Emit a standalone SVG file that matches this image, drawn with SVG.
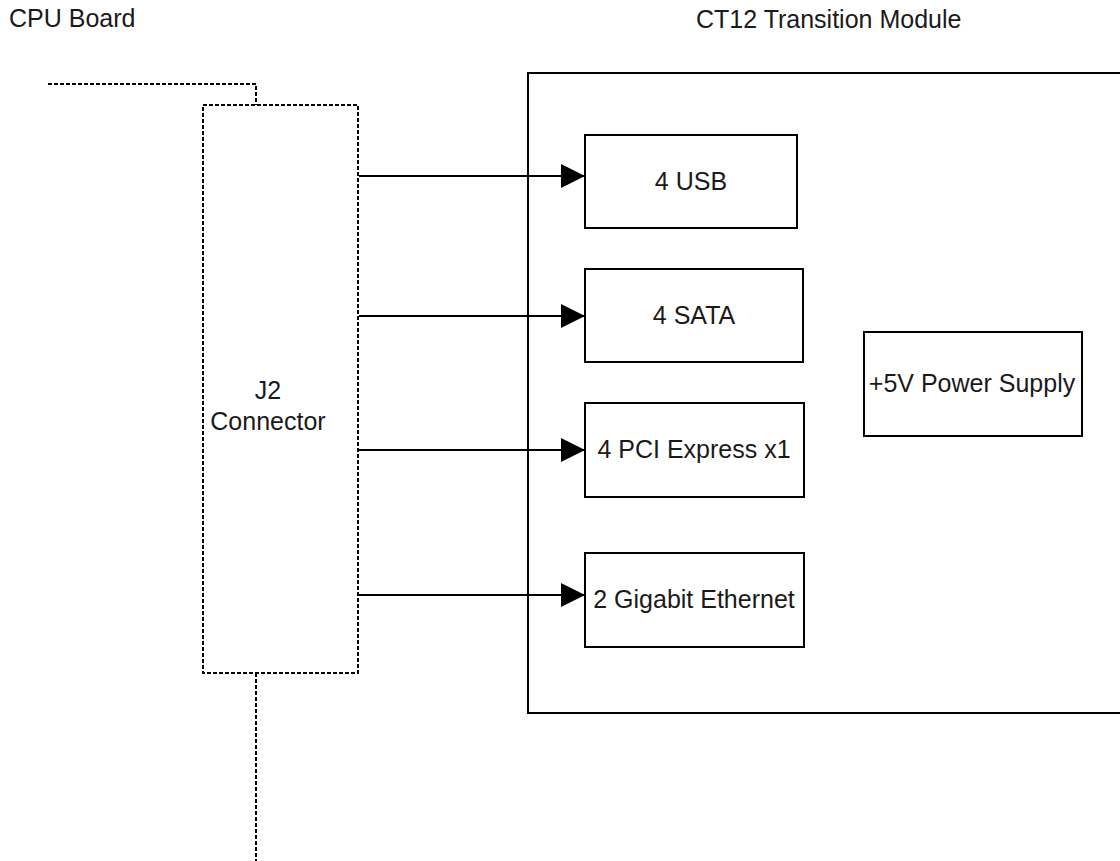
<svg xmlns="http://www.w3.org/2000/svg" width="1120" height="861" viewBox="0 0 1120 861">
<style>
  text { font-family: "Liberation Sans", Arial, sans-serif; font-size: 25px; fill: #1a1a1a; }
  .c { text-anchor: middle; }
  .box { fill: #ffffff; stroke: #000000; stroke-width: 2; }
  .dash { fill: none; stroke: #000000; stroke-width: 2; stroke-dasharray: 4 2; }
  .conn { fill: none; stroke: #000000; stroke-width: 2; }
</style>
<defs>
  <marker id="arrow" markerUnits="userSpaceOnUse" markerWidth="24" markerHeight="24" refX="22" refY="11" orient="auto" viewBox="0 0 22 22">
    <path d="M0,0 L22,11 L0,22 Z" fill="#000000"/>
  </marker>
</defs>
<rect width="1120" height="861" fill="#ffffff"/>
<g id="labels">
  <text x="9" y="27">CPU Board</text>
  <text x="696" y="28">CT12 Transition Module</text>
</g>
<g id="cpu-board-edge">
  <path class="dash" d="M48,84 H256 V105"/>
  <path class="dash" d="M256,673 V861"/>
</g>
<g id="module">
  <rect class="box" x="528" y="73" width="600" height="640"/>
</g>
<g id="j2">
  <rect class="dash" x="203" y="105" width="155" height="568" fill="#ffffff"/>
  <text class="c" x="268" y="399">J2</text>
  <text class="c" x="268" y="430">Connector</text>
</g>
<g id="usb">
  <rect class="box" x="585" y="135" width="212" height="93"/>
  <text class="c" x="691" y="190">4 USB</text>
</g>
<g id="sata">
  <rect class="box" x="585" y="269" width="218" height="93"/>
  <text class="c" x="694" y="324">4 SATA</text>
</g>
<g id="pcie">
  <rect class="box" x="585" y="403" width="219" height="94"/>
  <text class="c" x="694" y="458">4 PCI Express x1</text>
</g>
<g id="gbe">
  <rect class="box" x="585" y="553" width="219" height="94"/>
  <text class="c" x="694" y="608">2 Gigabit Ethernet</text>
</g>
<g id="power">
  <rect class="box" x="864" y="332" width="218" height="104"/>
  <text class="c" x="972" y="392">+5V Power Supply</text>
</g>
<g id="connectors">
  <path class="conn" d="M359,176 H585" marker-end="url(#arrow)"/>
  <path class="conn" d="M359,316 H585" marker-end="url(#arrow)"/>
  <path class="conn" d="M359,450 H585" marker-end="url(#arrow)"/>
  <path class="conn" d="M359,595 H585" marker-end="url(#arrow)"/>
</g>
</svg>
